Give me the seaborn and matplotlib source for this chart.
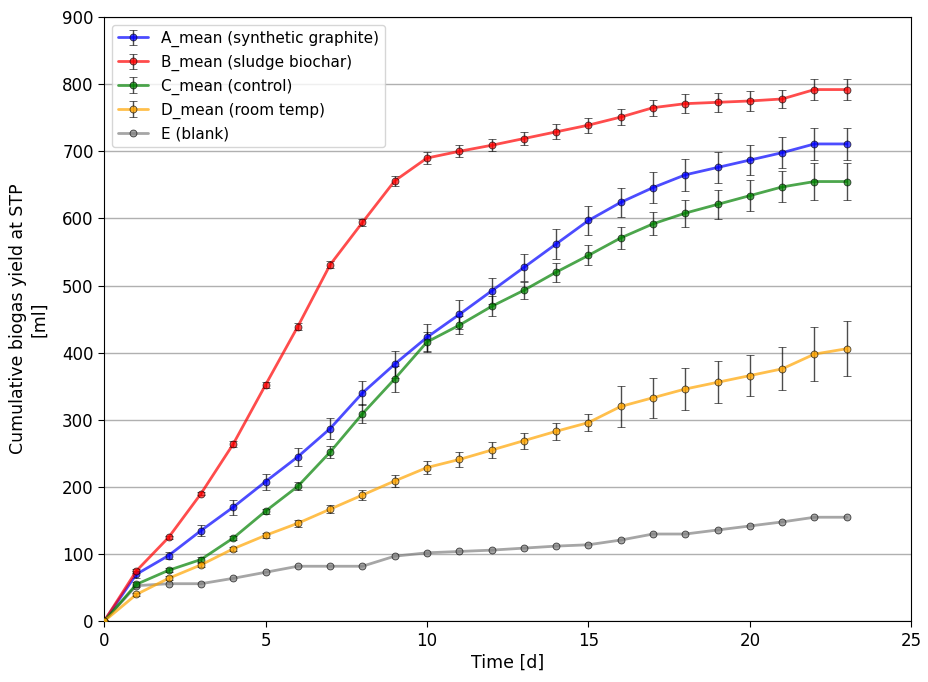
import numpy as np
import pandas as pd
import matplotlib
matplotlib.use("Agg")
import matplotlib.pyplot as plt
import seaborn as sns

days = list(range(24))

a_mean = [0, 70, 98, 135, 170, 208, 245, 287, 340, 383, 423, 457, 492, 527, 562, 597, 624, 646, 665, 676, 687, 698, 711, 711]
a_err = [0, 5, 5, 8, 11, 12, 13, 16, 18, 20, 20, 21, 20, 20, 22, 22, 22, 23, 24, 23, 23, 23, 24, 24]

b_mean = [0, 75, 125, 190, 264, 352, 439, 531, 594, 656, 690, 700, 709, 719, 729, 739, 751, 765, 771, 773, 775, 778, 792, 792]
b_err = [0, 3, 2, 2, 4, 4, 5, 5, 5, 7, 9, 9, 9, 10, 11, 11, 12, 12, 14, 14, 15, 14, 16, 16]

c_mean = [0, 55, 76, 92, 124, 164, 201, 252, 309, 361, 416, 441, 469, 493, 520, 545, 571, 592, 608, 621, 634, 647, 655, 655]
c_err = [0, 4, 3, 4, 3, 4, 6, 9, 14, 19, 15, 13, 15, 13, 14, 15, 16, 17, 20, 22, 23, 23, 27, 27]

d_mean = [0, 40, 64, 84, 108, 128, 146, 167, 188, 209, 229, 241, 255, 269, 283, 296, 320, 333, 346, 356, 366, 376, 398, 406]
d_err = [0, 2, 3, 3, 3, 4, 5, 6, 7, 9, 10, 11, 12, 12, 13, 13, 30, 30, 31, 31, 31, 32, 40, 41]

e_mean = [0, 53, 56, 56, 64, 73, 82, 82, 82, 97, 102, 104, 106, 109, 112, 114, 121, 130, 130, 136, 142, 148, 155, 155]

labels = ["A_mean (synthetic graphite)", "B_mean (sludge biochar)", "C_mean (control)",
          "D_mean (room temp)", "E (blank)"]
colors = ["blue", "red", "green", "orange", "grey"]

sns.set_style("ticks", {"text.color": "black", "axes.labelcolor": "black",
                        "xtick.color": "black", "ytick.color": "black",
                        "axes.edgecolor": "black"})
plt.rcParams["font.family"] = ["DejaVu Sans"]
plt.rcParams["font.size"] = 12

fig, ax = plt.subplots(figsize=(9.29, 6.82), dpi=100)
fig.subplots_adjust(left=0.112, right=0.981, top=0.975, bottom=0.089)

series = [(a_mean, a_err), (b_mean, b_err), (c_mean, c_err), (d_mean, d_err)]
for (m, e), lab, col in zip(series, labels[:4], colors[:4]):
    ax.errorbar(days, m, yerr=e, color=col, marker="o", markersize=5, mec="k", mew=0.6,
                lw=2, alpha=0.7, ecolor="k", elinewidth=1, capsize=3, label=lab, zorder=3)

df_e = pd.DataFrame({"day": days, "val": e_mean})
sns.lineplot(data=df_e, x="day", y="val", ax=ax, color=colors[4], marker="o", markersize=5,
             markeredgecolor="k", markeredgewidth=0.6, lw=2, alpha=0.7, label=labels[4], zorder=3)

ax.set_xlim(0, 25)
ax.set_ylim(0, 900)
ax.set_xticks([0, 5, 10, 15, 20, 25])
ax.set_yticks(range(0, 901, 100))
ax.tick_params(labelsize=12, length=4, color="black")
ax.yaxis.grid(True, color="#b0b0b0", lw=1)
ax.xaxis.grid(False)
ax.set_axisbelow(True)
for s in ax.spines.values():
    s.set_visible(True)
    s.set_color("black")
ax.set_xlabel("Time [d]", fontsize=12.5, labelpad=3)
ax.set_ylabel("Cumulative biogas yield at STP\n[ml]", fontsize=12.5, labelpad=10)

handles, labs = ax.get_legend_handles_labels()
order = [labs.index(l) for l in labels]
ax.legend([handles[i] for i in order], [labs[i] for i in order], loc="upper left", fontsize=11)

fig.savefig("out.png", dpi=100)
